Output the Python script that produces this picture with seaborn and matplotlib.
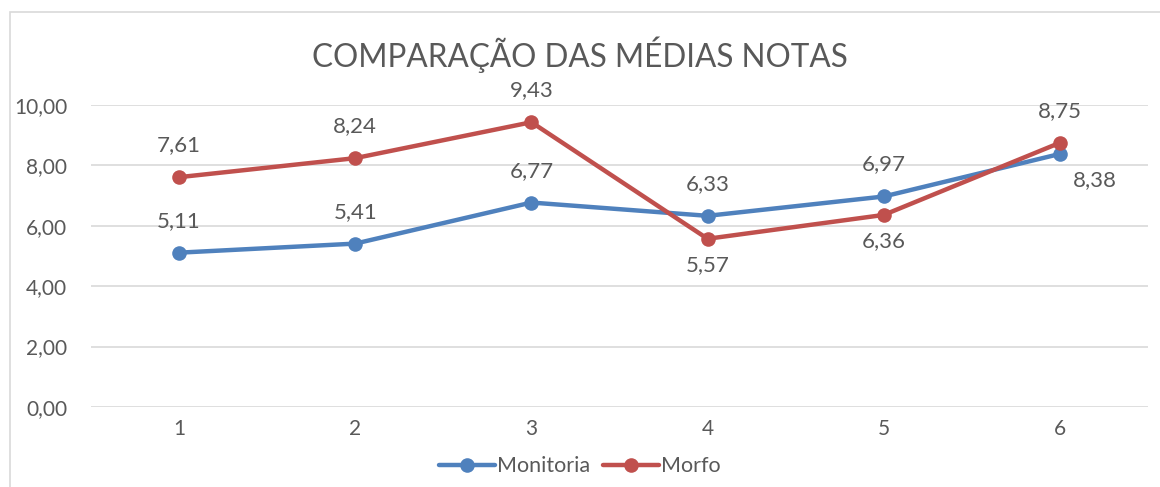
import matplotlib
matplotlib.use("Agg")
import matplotlib.pyplot as plt
import seaborn as sns
import pandas as pd
from matplotlib.lines import Line2D
from matplotlib.patches import Rectangle

categories = [1, 2, 3, 4, 5, 6]
monitoria = [5.11, 5.41, 6.77, 6.33, 6.97, 8.38]
morfo = [7.61, 8.24, 9.43, 5.57, 6.36, 8.75]
series_names = ["Monitoria", "Morfo"]
yticks = [0, 2, 4, 6, 8, 10]
title = "COMPARAÇÃO DAS MÉDIAS NOTAS"

sns.set_style("white")
plt.rcParams['font.family'] = ['Lato', 'DejaVu Sans']

blue = "#4F81BD"
red = "#C0504D"
txt = "#595959"

df = pd.DataFrame({
    "x": categories * 2,
    "y": monitoria + morfo,
    "serie": [series_names[0]] * 6 + [series_names[1]] * 6,
})

fig = plt.figure(figsize=(11.6, 4.87), dpi=100)
ax = fig.add_axes([0.0784, 0.1643, 0.9113, 0.6201])

sns.lineplot(data=df, x="x", y="y", hue="serie", palette={"Monitoria": blue, "Morfo": red},
             marker="o", markersize=10.5, markeredgewidth=0, linewidth=3.2, ax=ax, legend=False)

ax.set_xlim(0.5, 6.5)
ax.set_ylim(0, 10)
ax.set_yticks(yticks)
ax.set_yticklabels([f"{v:.2f}".replace(".", ",") for v in yticks])
ax.set_xticks(categories)
ax.set_xticklabels([str(c) for c in categories])
ax.tick_params(axis="both", length=0, labelsize=15, labelcolor=txt)
ax.tick_params(axis="y", pad=17)
ax.tick_params(axis="x", pad=9)
ax.set_xlabel("")
ax.set_ylabel("")
for s in ax.spines.values():
    s.set_visible(False)
ax.grid(axis="y", color="#D9D9D9", linewidth=1.2)
ax.set_axisbelow(True)

def fmt(v):
    return f"{v:.2f}".replace(".", ",")

mon_off = [(0, 23), (0, 23), (0, 23), (0, 23), (0, 23), (25, -19)]
mor_off = [(0, 23), (0, 23), (0, 23), (0, -19), (0, -19), (0, 23)]
for x, v, o in zip(categories, monitoria, mon_off):
    ax.annotate(fmt(v), (x, v), xytext=o, textcoords="offset points",
                ha="center", va="center", fontsize=16, color=txt)
for x, v, o in zip(categories, morfo, mor_off):
    ax.annotate(fmt(v), (x, v), xytext=o, textcoords="offset points",
                ha="center", va="center", fontsize=16, color=txt)

fig.text(0.5, 0.887, title, ha="center", va="center", fontsize=22.7, color=txt)

handles = [Line2D([0], [0], color=blue, lw=3.2, marker="o", markersize=10.5, markeredgewidth=0),
           Line2D([0], [0], color=red, lw=3.2, marker="o", markersize=10.5, markeredgewidth=0)]
fig.legend(handles, series_names, loc="center", bbox_to_anchor=(0.5, 0.043), ncol=2,
           frameon=False, fontsize=15.5, labelcolor=txt, handlelength=2.6,
           handletextpad=0.1, columnspacing=0.6)

fig.patches.append(Rectangle((10 / 1160, -0.1), 1.2, 1 - 12 / 487 + 0.1, transform=fig.transFigure,
                             fill=False, edgecolor="#D9D9D9", linewidth=1.2))

fig.savefig("out.png", dpi=100)
